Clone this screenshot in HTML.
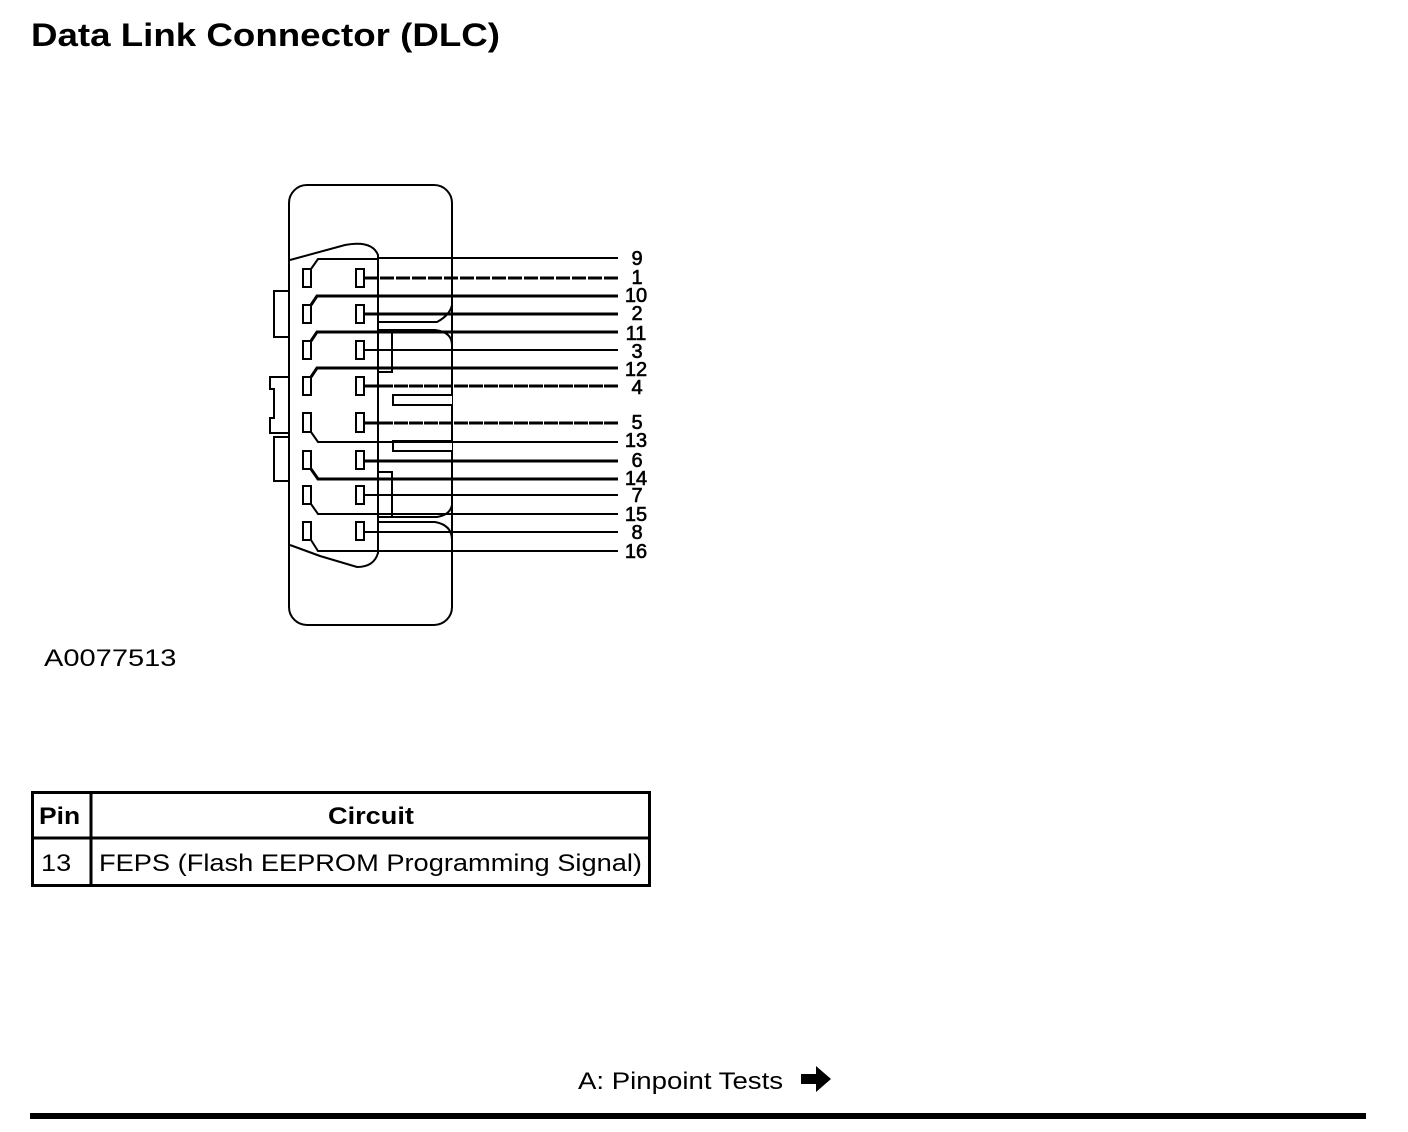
<!DOCTYPE html>
<html><head><meta charset="utf-8"><style>
body{margin:0;width:1408px;height:1132px;background:#fff;position:relative;font-family:"Liberation Sans",sans-serif;color:#000;overflow:hidden}
.t{position:absolute;white-space:nowrap;transform-origin:0 0}
</style></head><body>
<div class="t" style="left:31px;top:17px;font-size:32px;font-weight:bold;transform:scaleX(1.147)">Data Link Connector (DLC)</div>
<div class="t" style="left:44px;top:645px;font-size:24px;transform:scaleX(1.21)">A0077513</div>
<svg width="1408" height="1132" style="position:absolute;left:0;top:0" fill="none" stroke="#000" stroke-width="2">
<rect x="289" y="185" width="163" height="440" rx="18"/>
<path d="M289 291 H274 V337 H289"/>
<path d="M289 377 H270 V389 H274 V418 H270 V433 H289"/>
<path d="M289 437 H274 V481 H289"/>
<path d="M290 260 L345 245 Q372 240 378 255 V553 Q374 567 357 567 L320 556 L290 545"/>
<path d="M378 322 H437 Q450 315 452 305"/>
<path d="M378 330 H435 Q452 332 452 345 V505 Q450 515 437 517 H378"/>
<path d="M378 522 H435 Q452 525 452 540"/>
<path d="M378 330 H392 V372 H378"/>
<path d="M378 472 H392 V517 H378"/>
<path d="M452 395 H393 V405 H452" fill="#fff"/>
<path d="M452 441 H393 V451 H452" fill="#fff"/>
<g stroke-width="2" fill="#fff">
<rect x="303" y="269" width="8" height="18"/><rect x="356" y="269" width="8" height="18"/>
<rect x="303" y="305" width="8" height="18"/><rect x="356" y="305" width="8" height="18"/>
<rect x="303" y="341" width="8" height="18"/><rect x="356" y="341" width="8" height="18"/>
<rect x="303" y="377" width="8" height="18"/><rect x="356" y="377" width="8" height="18"/>
<rect x="303" y="413" width="8" height="19"/><rect x="356" y="413" width="8" height="19"/>
<rect x="303" y="451" width="8" height="18"/><rect x="356" y="451" width="8" height="18"/>
<rect x="303" y="486" width="8" height="18"/><rect x="356" y="486" width="8" height="18"/>
<rect x="303" y="522" width="8" height="18"/><rect x="356" y="522" width="8" height="18"/>
</g>
<path d="M378 258 H618"/>
<path d="M311 269 L318 259 H378"/>
<path d="M364 278 H618" stroke-width="3" stroke-dasharray="14 2"/>
<path d="M311 305 L317 296 H618" stroke-width="3"/>
<path d="M364 314 H618" stroke-width="3"/>
<path d="M311 341 L317 332 H618" stroke-width="3"/>
<path d="M364 350 H618"/>
<path d="M311 377 L317 368 H618" stroke-width="3"/>
<path d="M364 386 H618" stroke-width="3" stroke-dasharray="14 1"/>
<path d="M364 423 H618" stroke-width="3" stroke-dasharray="14 1"/>
<path d="M311 432 L318 442 H618"/>
<path d="M364 461 H618" stroke-width="3"/>
<path d="M311 469 L318 479 H618" stroke-width="3"/>
<path d="M364 495 H618"/>
<path d="M311 504 L318 514 H618"/>
<path d="M364 532 H618"/>
<path d="M311 540 L318 551 H618"/>
<g fill="#000" stroke="#000" stroke-width="0.6" font-family="Liberation Sans, sans-serif" font-size="20" text-anchor="middle">
<text x="637" y="265">9</text><text x="637" y="284">1</text><text x="636" y="302">10</text><text x="637" y="320">2</text>
<text x="636" y="340">11</text><text x="637" y="358">3</text><text x="636" y="376">12</text><text x="637" y="394">4</text>
<text x="637" y="429">5</text><text x="636" y="447">13</text><text x="637" y="467">6</text><text x="636" y="485">14</text>
<text x="637" y="502">7</text><text x="636" y="521">15</text><text x="637" y="539">8</text><text x="636" y="558">16</text>
</g>
<rect x="32.5" y="792.5" width="617" height="93" stroke-width="3"/>
<path d="M32 838 H651 M91 792 V886" stroke-width="3"/>
<rect x="30" y="1113" width="1336" height="6" fill="#000" stroke="none"/>
<path d="M801 1074 H816 V1066 L831 1079 L816 1092 V1084 H801 Z" fill="#000" stroke="none"/>
</svg>
<div class="t" style="left:39px;top:803px;font-size:24px;font-weight:bold;transform:scaleX(1.1)">Pin</div>
<div class="t" style="left:328px;top:803px;font-size:24px;font-weight:bold;transform:scaleX(1.13)">Circuit</div>
<div class="t" style="left:41px;top:850px;font-size:24px;transform:scaleX(1.13)">13</div>
<div class="t" style="left:99px;top:850px;font-size:24px;transform:scaleX(1.134)">FEPS (Flash EEPROM Programming Signal)</div>
<div class="t" style="left:578px;top:1068px;font-size:24px;transform:scaleX(1.15)">A: Pinpoint Tests</div>
</body></html>
